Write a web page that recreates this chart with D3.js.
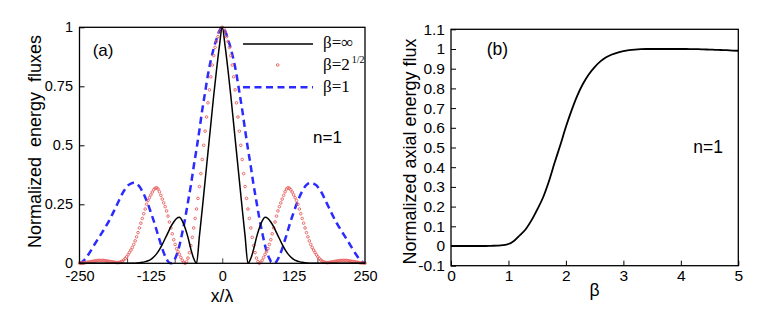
<!DOCTYPE html>
<html>
<head>
<meta charset="utf-8">
<script src="https://cdn.jsdelivr.net/npm/d3@7"></script>
<style>
body { margin: 0; background: #fff; }
svg text { font-family: "Liberation Sans", Arial, sans-serif; fill: #000; }
.legend text { font-family: "Liberation Serif", "Times New Roman", serif; }
</style>
</head>
<body>
<div id="chart"></div>
<script>
// ---------- panel (a): energy fluxes vs x/lambda ----------
var xGridCoarse = d3.range(-250, 250.01, 5);    // black + blue samples
var xGridFine = d3.range(-250, 250.01, 2.5);    // red dotted samples

// beta = infinity (black solid)
var fluxInf = [
    0, 0, 0, 0, 0, 0, 0, 0, 0, 0,
    0, 0, 0, 0, 0, 0, 0, 0, 0, 0,
    0.001, 0.002, 0.004, 0.007, 0.011, 0.017, 0.027, 0.04, 0.058, 0.08,
    0.105, 0.13, 0.155, 0.175, 0.19, 0.195, 0.18, 0.15, 0.11, 0.06,
    0.02, 0.0, 0.115, 0.23, 0.35, 0.47, 0.59, 0.71, 0.82, 0.92,
    1.0,
    0.92, 0.82, 0.71, 0.59, 0.47, 0.35, 0.23, 0.115, 0.0, 0.02,
    0.06, 0.11, 0.15, 0.18, 0.195, 0.19, 0.175, 0.155, 0.13, 0.105,
    0.08, 0.058, 0.04, 0.027, 0.017, 0.011, 0.007, 0.004, 0.002, 0.001,
    0, 0, 0, 0, 0, 0, 0, 0, 0, 0,
    0, 0, 0, 0, 0, 0, 0, 0, 0, 0
];

// beta = 2^(1/2) (red dots)
var fluxSqrt2 = [
    0.001, 0.001, 0.002, 0.002, 0.003, 0.004, 0.005, 0.006, 0.007, 0.008,
    0.009, 0.01, 0.011, 0.012, 0.012, 0.012, 0.012, 0.012, 0.011, 0.01,
    0.009, 0.008, 0.007, 0.006, 0.005, 0.004, 0.003, 0.003, 0.004, 0.006,
    0.009, 0.014, 0.02, 0.027, 0.036, 0.046, 0.056, 0.067, 0.08, 0.095,
    0.112, 0.13, 0.15, 0.17, 0.19, 0.21, 0.23, 0.25, 0.266, 0.278,
    0.29, 0.302, 0.312, 0.318, 0.32, 0.315, 0.303, 0.288, 0.272, 0.256,
    0.24, 0.222, 0.2, 0.175, 0.15, 0.125, 0.1, 0.08, 0.062, 0.05,
    0.038, 0.025, 0.013, 0.004, 0.0, 0.007, 0.022, 0.045, 0.075, 0.11,
    0.15, 0.19, 0.23, 0.275, 0.325, 0.38, 0.44, 0.5, 0.56, 0.62,
    0.68, 0.735, 0.79, 0.84, 0.88, 0.915, 0.94, 0.96, 0.98, 0.995,
    1.0,
    0.995, 0.98, 0.96, 0.94, 0.915, 0.88, 0.84, 0.79, 0.735, 0.68,
    0.62, 0.56, 0.5, 0.44, 0.38, 0.325, 0.275, 0.23, 0.19, 0.15,
    0.11, 0.075, 0.045, 0.022, 0.007, 0.0, 0.004, 0.013, 0.025, 0.038,
    0.05, 0.062, 0.08, 0.1, 0.125, 0.15, 0.175, 0.2, 0.222, 0.24,
    0.256, 0.272, 0.288, 0.303, 0.315, 0.32, 0.318, 0.312, 0.302, 0.29,
    0.278, 0.266, 0.25, 0.23, 0.21, 0.19, 0.17, 0.15, 0.13, 0.112,
    0.095, 0.08, 0.067, 0.056, 0.046, 0.036, 0.027, 0.02, 0.014, 0.009,
    0.006, 0.004, 0.003, 0.003, 0.004, 0.005, 0.006, 0.007, 0.008, 0.009,
    0.01, 0.011, 0.012, 0.012, 0.012, 0.012, 0.012, 0.011, 0.01, 0.009,
    0.008, 0.007, 0.006, 0.005, 0.004, 0.003, 0.002, 0.002, 0.001, 0.001
];

// beta = 1 (blue dashed)
var fluxOne = [
    0.001, 0.007, 0.018, 0.035, 0.054, 0.074, 0.094, 0.113, 0.132, 0.152,
    0.172, 0.195, 0.22, 0.245, 0.27, 0.295, 0.315, 0.33, 0.338, 0.341,
    0.337, 0.325, 0.305, 0.28, 0.25, 0.215, 0.18, 0.14, 0.1, 0.062,
    0.03, 0.008, 0.0, 0.009, 0.035, 0.075, 0.13, 0.19, 0.26, 0.33,
    0.41, 0.485, 0.565, 0.65, 0.725, 0.8, 0.86, 0.91, 0.95, 0.985,
    1.0,
    0.985, 0.95, 0.91, 0.86, 0.8, 0.725, 0.65, 0.565, 0.485, 0.41,
    0.33, 0.26, 0.19, 0.13, 0.075, 0.035, 0.009, 0.0, 0.008, 0.03,
    0.062, 0.1, 0.14, 0.18, 0.215, 0.25, 0.28, 0.305, 0.325, 0.337,
    0.341, 0.338, 0.33, 0.315, 0.295, 0.27, 0.245, 0.22, 0.195, 0.172,
    0.152, 0.132, 0.113, 0.094, 0.074, 0.054, 0.035, 0.018, 0.007, 0.001
];

var xLabelsA = [-250, -125, 0, 125, 250];
var xTickMarksA = [-166.67, -83.33, 0, 83.33, 166.67];
var yTicksA = [0, 0.25, 0.5, 0.75, 1];

// ---------- panel (b): axial flux vs beta ----------
var betaGrid = d3.range(0, 5.001, 0.1);
var axialFlux = [
    0, 0, 0, 0, 0, 0, 0, 0.001, 0.002, 0.004,
    0.01, 0.027, 0.055, 0.085, 0.13, 0.185, 0.245, 0.325, 0.42, 0.51,
    0.605, 0.69, 0.765, 0.825, 0.872, 0.908, 0.937, 0.958, 0.972, 0.982,
    0.989, 0.994, 0.997, 0.999, 1.0, 1.0, 1.0, 1.0, 1.0, 1.0,
    1.0, 1.0, 0.999, 0.999, 0.998, 0.997, 0.996, 0.995, 0.994, 0.992,
    0.991
];
var xTicksB = [0, 1, 2, 3, 4, 5];
var yTicksB = [-0.1, 0, 0.1, 0.2, 0.3, 0.4, 0.5, 0.6, 0.7, 0.8, 0.9, 1, 1.1];

var svgWidth = 763;
var svgHeight = 313;

var svg = d3.select("#chart")
    .append("svg")
    .attr("width", svgWidth)
    .attr("height", svgHeight);

var fmt = d => String(+d.toFixed(2));

// ===== panel (a) =====
var xA = d3.scaleLinear().domain([-250, 250]).range([79.5, 365]);
var yA = d3.scaleLinear().domain([0, 1]).range([263.3, 27.3]);

var gA = svg.append("g");

// tick labels
gA.append("g")
    .attr("transform", `translate(0, ${yA(0)})`)
    .call(d3.axisBottom(xA).tickValues(xLabelsA).tickSize(0).tickPadding(7).tickFormat(fmt))
    .call(g => g.select(".domain").remove())
    .selectAll("text").attr("font-size", "14.5px").attr("font-family", null);
// inward tick marks
gA.append("g")
    .attr("transform", `translate(0, ${yA(0)})`)
    .call(d3.axisBottom(xA).tickValues(xTickMarksA).tickSize(-5).tickFormat(""))
    .call(g => g.select(".domain").remove())
    .selectAll("line").attr("stroke", "#444");
gA.append("g")
    .attr("transform", `translate(${xA(-250)}, 0)`)
    .call(d3.axisLeft(yA).tickValues(yTicksA).tickSize(-5).tickPadding(6.5).tickFormat(fmt))
    .call(g => g.select(".domain").remove())
    .selectAll("text").attr("font-size", "14.5px").attr("font-family", null);

var lineA = d3.line().x(d => xA(d[0])).y(d => yA(d[1])).curve(d3.curveMonotoneX);

gA.append("path")
    .datum(xGridCoarse.map((x, i) => [x, fluxOne[i]]))
    .attr("d", lineA)
    .attr("fill", "none")
    .attr("stroke", "#2b2bff")
    .attr("stroke-width", 2.5)
    .attr("stroke-dasharray", "7,4.5");

gA.selectAll(".reddot")
    .data(xGridFine.map((x, i) => [x, fluxSqrt2[i]]))
    .enter()
    .append("circle")
    .attr("class", "reddot")
    .attr("cx", d => xA(d[0]))
    .attr("cy", d => yA(d[1]))
    .attr("r", 1.3)
    .attr("fill", "none")
    .attr("stroke", "#e85a5a")
    .attr("stroke-width", 0.9);

gA.append("path")
    .datum(xGridCoarse.map((x, i) => [x, fluxInf[i]]))
    .attr("d", lineA)
    .attr("fill", "none")
    .attr("stroke", "#000")
    .attr("stroke-width", 1.5);

// frame
gA.append("rect")
    .attr("x", xA(-250)).attr("y", yA(1))
    .attr("width", xA(250) - xA(-250)).attr("height", yA(0) - yA(1))
    .attr("fill", "none").attr("stroke", "#000").attr("stroke-width", 1.3);

// legend
var leg = gA.append("g").attr("class", "legend");
leg.append("line").attr("x1", 243).attr("x2", 313).attr("y1", 44).attr("y2", 44)
    .attr("stroke", "#000").attr("stroke-width", 1.5);
leg.append("circle").attr("cx", 277.7).attr("cy", 65).attr("r", 1.3)
    .attr("fill", "none").attr("stroke", "#e85a5a").attr("stroke-width", 0.9);
leg.append("line").attr("x1", 243).attr("x2", 313).attr("y1", 87.3).attr("y2", 87.3)
    .attr("stroke", "#2b2bff").attr("stroke-width", 2.5).attr("stroke-dasharray", "7,4.5");
leg.append("text").attr("x", 323).attr("y", 48).attr("font-size", "17px").text("β=∞");
var t2 = leg.append("text").attr("x", 323).attr("y", 70).attr("font-size", "17px");
t2.append("tspan").text("β=2");
t2.append("tspan").attr("dx", 2).attr("dy", -7).attr("font-size", "10px").text("1/2");
leg.append("text").attr("x", 323).attr("y", 92).attr("font-size", "17px").text("β=1");

gA.append("text").attr("x", 92.7).attr("y", 56).attr("font-size", "17px").text("(a)");
gA.append("text").attr("x", 313).attr("y", 143.3).attr("font-size", "17px").text("n=1");

gA.append("text")
    .attr("transform", "translate(41, 141.5) rotate(-90)")
    .attr("text-anchor", "middle")
    .attr("font-size", "18px")
    .style("white-space", "pre")
    .text("Normalized  energy  fluxes");
gA.append("text")
    .attr("x", 222).attr("y", 301.5)
    .attr("text-anchor", "middle")
    .attr("font-size", "17.5px")
    .text("x/λ");

// ===== panel (b) =====
var xB = d3.scaleLinear().domain([0, 5]).range([451, 738.3]);
var yB = d3.scaleLinear().domain([-0.1, 1.1]).range([265.7, 29.3]);

var gB = svg.append("g");

gB.append("g")
    .attr("transform", `translate(0, ${yB(-0.1)})`)
    .call(d3.axisBottom(xB).tickValues(xTicksB).tickSize(-5).tickPadding(4).tickFormat(fmt))
    .call(g => g.select(".domain").remove())
    .selectAll("text").attr("font-size", "15.5px").attr("font-family", null);
gB.append("g")
    .attr("transform", `translate(${xB(0)}, 0)`)
    .call(d3.axisLeft(yB).tickValues(yTicksB).tickSize(-5).tickPadding(6).tickFormat(fmt))
    .call(g => g.select(".domain").remove())
    .selectAll("text").attr("font-size", "15.5px").attr("font-family", null);

var lineB = d3.line().x(d => xB(d[0])).y(d => yB(d[1])).curve(d3.curveMonotoneX);

gB.append("path")
    .datum(betaGrid.map((b, i) => [b, axialFlux[i]]))
    .attr("d", lineB)
    .attr("fill", "none")
    .attr("stroke", "#000")
    .attr("stroke-width", 1.8);

gB.append("rect")
    .attr("x", xB(0)).attr("y", yB(1.1))
    .attr("width", xB(5) - xB(0)).attr("height", yB(-0.1) - yB(1.1))
    .attr("fill", "none").attr("stroke", "#000").attr("stroke-width", 1.3);

gB.append("text").attr("x", 486.7).attr("y", 55).attr("font-size", "17.5px").text("(b)");
gB.append("text").attr("x", 693.3).attr("y", 153.3).attr("font-size", "17.5px").text("n=1");

gB.append("text")
    .attr("transform", "translate(416, 151.5) rotate(-90)")
    .attr("text-anchor", "middle")
    .attr("font-size", "18px")
    .text("Normalized axial energy flux");
gB.append("text")
    .attr("x", 594.6).attr("y", 296)
    .attr("text-anchor", "middle")
    .attr("font-size", "17.5px")
    .text("β");
</script>
</body>
</html>
